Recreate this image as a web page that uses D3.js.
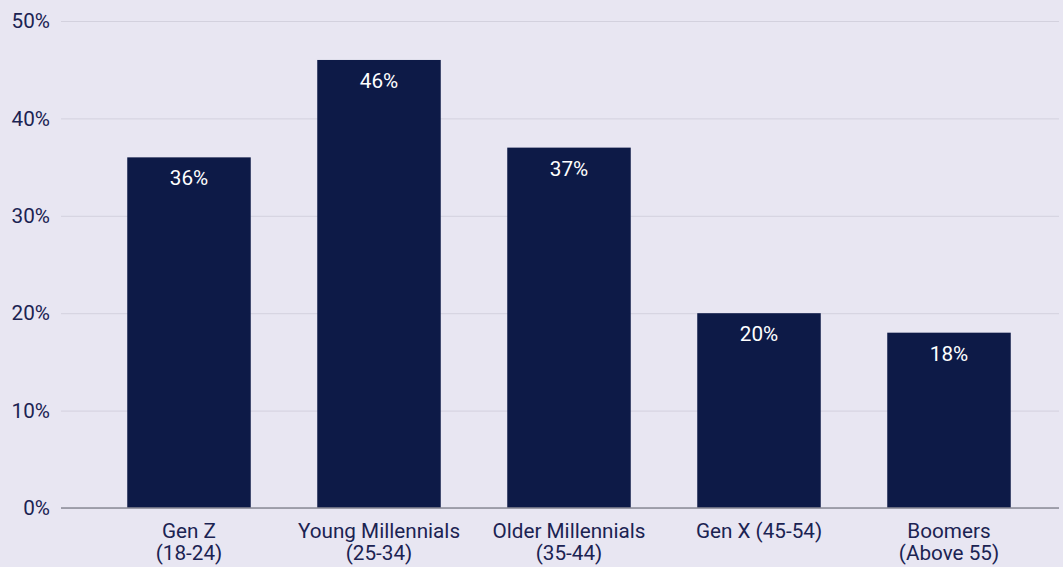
<!DOCTYPE html>
<html>
<head>
<meta charset="utf-8">
<script src="https://cdn.jsdelivr.net/npm/d3@7"></script>
<style>
  html, body { margin: 0; padding: 0; background: #e8e6f2; }
  svg { display: block; font-family: Roboto, "Noto Sans", sans-serif; }
</style>
</head>
<body>
<svg id="chart" width="1063" height="567"></svg>
<script>
// Share of respondents by generation
const categories = [
  ["Gen Z", "(18-24)"],
  ["Young Millennials", "(25-34)"],
  ["Older Millennials", "(35-44)"],
  ["Gen X (45-54)"],
  ["Boomers", "(Above 55)"]
];
const values = [36, 46, 37, 20, 18];
const yTicks = [0, 10, 20, 30, 40, 50];

const svg = d3.select("#chart");
const plotLeft = 61, plotRight = 1059;
const barColor = "#0d1a47";
const textColor = "#1b2352";
const fontSize = "20.7px";

const x = d3.scaleBand()
  .domain(d3.range(categories.length))
  .range([94, 1044])
  .paddingInner(0.35)
  .paddingOuter(0.175);

const y = d3.scaleLinear().domain([0, 50]).range([508, 21]);

// Gridlines
const grid = svg.append("g")
  .attr("transform", `translate(${plotLeft},0)`)
  .call(d3.axisLeft(y).tickValues(yTicks).tickSize(-(plotRight - plotLeft)).tickFormat(""));
grid.select(".domain").remove();
grid.selectAll("line").attr("stroke", "#d3d1de").attr("stroke-width", 1);

// Y tick labels
const yAxis = svg.append("g")
  .attr("transform", `translate(${plotLeft},0)`)
  .call(d3.axisLeft(y).tickValues(yTicks).tickSize(0).tickPadding(11).tickFormat(d => d + "%"));
yAxis.select(".domain").remove();
yAxis.selectAll("text")
  .attr("fill", textColor)
  .style("font-size", fontSize)
  .style("font-family", "Roboto, sans-serif");

// Bars
svg.append("g").selectAll("rect")
  .data(values)
  .join("rect")
  .attr("x", (d, i) => x(i))
  .attr("y", d => y(d))
  .attr("width", x.bandwidth())
  .attr("height", d => y(0) - y(d))
  .attr("fill", barColor);

// Value labels inside bars
svg.append("g").selectAll("text")
  .data(values)
  .join("text")
  .attr("x", (d, i) => x(i) + x.bandwidth() / 2)
  .attr("y", d => y(d) + 28)
  .attr("text-anchor", "middle")
  .attr("fill", "#ffffff")
  .style("font-size", fontSize)
  .text(d => d + "%");

// Baseline
svg.append("line")
  .attr("x1", plotLeft).attr("x2", plotRight)
  .attr("y1", y(0)).attr("y2", y(0))
  .attr("stroke", "#8a8a96").attr("stroke-width", 1.5);

// Category labels
const xAxis = svg.append("g")
  .attr("transform", `translate(0,${y(0)})`)
  .call(d3.axisBottom(x).tickSize(0).tickFormat(""));
xAxis.select(".domain").remove();
xAxis.selectAll(".tick").each(function (i) {
  const t = d3.select(this).append("text")
    .attr("text-anchor", "middle")
    .attr("fill", textColor)
    .style("font-size", fontSize)
    .style("font-family", "Roboto, sans-serif");
  categories[i].forEach((line, k) => {
    t.append("tspan").attr("x", 0).attr("y", 30 + k * 22).text(line);
  });
});
</script>
</body>
</html>
